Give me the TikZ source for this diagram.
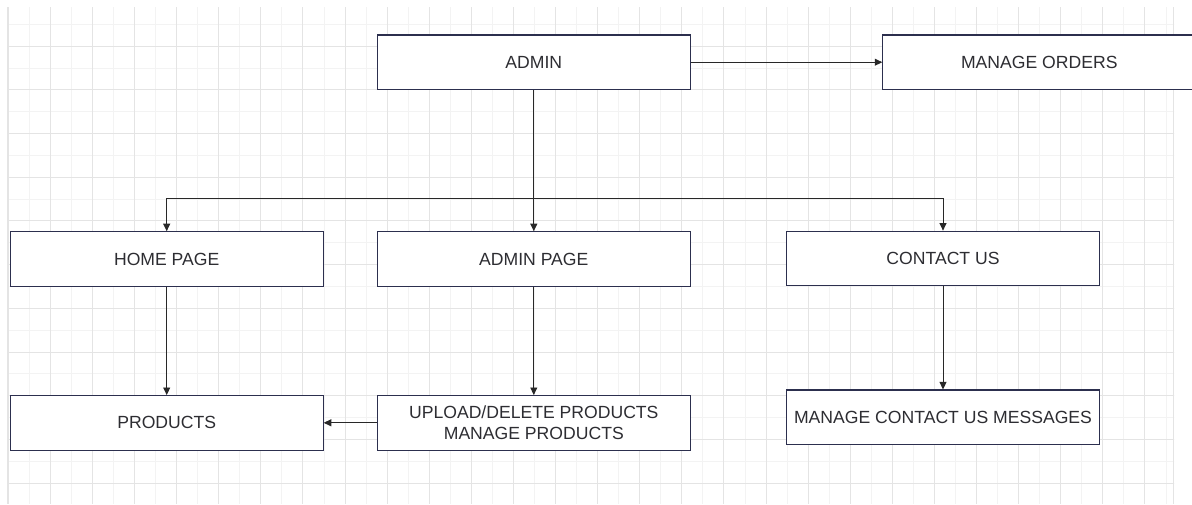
\documentclass[tikz,border=0pt]{standalone}
\usepackage{fontspec}
\setmainfont{Liberation Sans}
\usetikzlibrary{arrows.meta}
\definecolor{gridminor}{RGB}{243,243,243}
\definecolor{gridmajor}{RGB}{228,228,228}
\definecolor{boxline}{RGB}{44,47,78}
\definecolor{txt}{RGB}{45,45,50}
\definecolor{wire}{RGB}{40,40,40}
\tikzset{
  box/.style={draw=boxline, line width=1.1pt, fill=white, rectangle,
    minimum width=313pt, minimum height=54.5pt, inner sep=0pt,
    align=center, text=txt, font=\fontsize{17.6}{21.7}\selectfont},
  arr/.style={draw=wire, line width=0.9pt,
    -{Triangle[length=7.5pt,width=7pt]}},
}
\begin{document}
\begin{tikzpicture}[x=1pt, y=-1pt]
\useasboundingbox (0,0) rectangle (1192,504);
\fill[white] (0,0) rectangle (1192,504);

% background grid
\begin{scope}
\clip (7.5,7) rectangle (1174,504);
\foreach \k in {0,...,55}{
  \pgfmathsetmacro{\gx}{8.2+\k*21.05}
  \ifodd\k
    \draw[gridminor, line width=0.9pt] (\gx,0) -- (\gx,504);
  \fi
}
\foreach \k in {1,...,22}{
  \pgfmathsetmacro{\gy}{2.4+\k*21.85}
  \ifodd\k
    \draw[gridminor, line width=0.9pt] (0,\gy) -- (1192,\gy);
  \fi
}
\foreach \k in {0,2,...,54}{
  \pgfmathsetmacro{\gx}{8.2+\k*21.05}
  \draw[gridmajor, line width=0.9pt] (\gx,0) -- (\gx,504);
}
\foreach \k in {2,4,...,22}{
  \pgfmathsetmacro{\gy}{2.4+\k*21.85}
  \draw[gridmajor, line width=0.9pt] (0,\gy) -- (1192,\gy);
}
\end{scope}
\draw[gridmajor, line width=0.9pt] (7.8,7) -- (7.8,504);
\draw[gridmajor, line width=0.9pt] (1173.6,7) -- (1173.6,504);

% boxes
\node[box] (admin)    at (533.8,62.2)  {ADMIN};
\node[box] (orders)   at (1039.3,62.2) {MANAGE ORDERS};
\node[box] (home)     at (166.7,259)   {HOME PAGE};
\node[box] (adminpg)  at (533.8,259)   {ADMIN PAGE};
\node[box] (contact)  at (943,258.4)   {CONTACT US};
\node[box] (products) at (166.7,422.8) {PRODUCTS};
\node[box] (upload)   at (533.8,422.8) {UPLOAD/DELETE PRODUCTS\\MANAGE PRODUCTS};
\node[box] (messages) at (943,417.2)   {MANAGE CONTACT US MESSAGES};

% connectors
\coordinate (split) at (533.8,198);
\draw[arr] (admin.east) -- (orders.west);
\draw[arr] (admin.south) -- (adminpg.north);
\draw[arr] (split) -| (home.north);
\draw[arr] (split) -| (contact.north);
\draw[arr] (home.south) -- (products.north);
\draw[arr] (adminpg.south) -- (upload.north);
\draw[arr] (contact.south) -- (messages.north);
\draw[arr] (upload.west) -- (products.east);
\end{tikzpicture}
\end{document}
